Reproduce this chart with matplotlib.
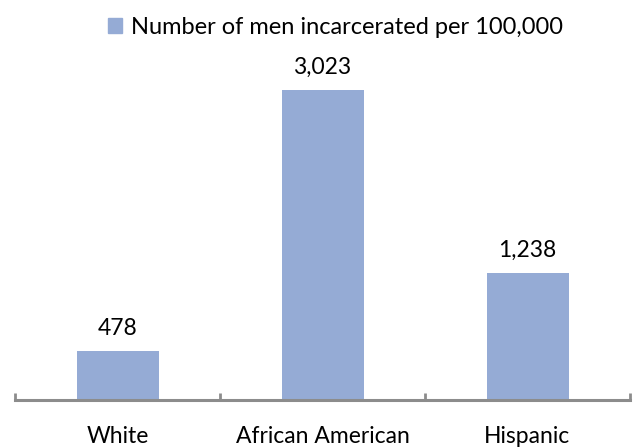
import matplotlib
matplotlib.use("Agg")
import matplotlib.pyplot as plt
from matplotlib.patches import Patch

categories = ["White", "African American", "Hispanic"]
values = [478, 3023, 1238]
value_labels = ["478", "3,023", "1,238"]
series_name = "Number of men incarcerated per 100,000"

plt.rcParams["font.family"] = ["Lato", "DejaVu Sans"]

color = "#95abd5"
fig = plt.figure(figsize=(6.33, 4.47), dpi=100)
ax = fig.add_axes([15 / 633, 47 / 447, 615 / 633, 340 / 447])

x = list(range(len(categories)))
ax.bar(x, values, width=0.4, color=color)
for xi, v, lab in zip(x, values, value_labels):
    ax.annotate(lab, (xi, v), xytext=(0, 9), textcoords="offset points",
                ha="center", va="bottom", fontsize=16.5)

ax.set_xlim(-0.5, len(categories) - 0.5)
ax.set_ylim(0, 340 / 0.1025)
ax.set_yticks([])
for s in ["top", "right", "left"]:
    ax.spines[s].set_visible(False)
ax.spines["bottom"].set_color("#8c8c8c")
ax.spines["bottom"].set_linewidth(2.2)

ax.set_xticks([i - 0.5 for i in range(len(categories) + 1)])
ax.set_xticklabels([])
ax.tick_params(axis="x", which="major", direction="in", length=5, width=2, color="#8c8c8c")
ax.set_xticks(x, minor=True)
ax.set_xticklabels(categories, minor=True, fontsize=16.5)
ax.tick_params(axis="x", which="minor", length=0, pad=18.5)

fig.legend(handles=[Patch(color=color, label=series_name)], loc="upper center",
           bbox_to_anchor=(0.53, 1.01), frameon=False, fontsize=17,
           handlelength=0.6, handleheight=0.6, handletextpad=0.35)

fig.savefig("out.png", dpi=100)
